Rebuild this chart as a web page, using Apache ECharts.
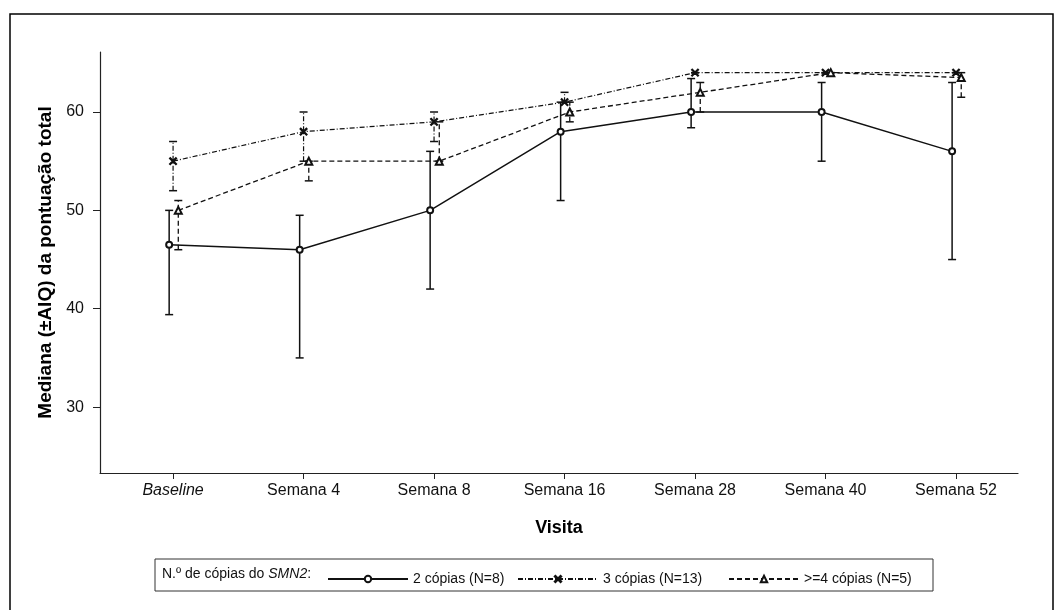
<!DOCTYPE html>
<html>
<head>
<meta charset="utf-8">
<script src="https://cdn.jsdelivr.net/npm/echarts@6/dist/echarts.min.js"></script>
<style>html,body{margin:0;padding:0;background:#fff}#c{width:1055px;height:610px}</style>
</head>
<body>
<div id="c"></div>
<script>
const categories = ['Baseline', 'Semana 4', 'Semana 8', 'Semana 16', 'Semana 28', 'Semana 40', 'Semana 52'];
const yTicks = [30, 40, 50, 60];
const seriesNames = ['2 cópias (N=8)', '3 cópias (N=13)', '>=4 cópias (N=5)'];
const two = [46.5, 46.0, 50.0, 58.0, 60.0, 60.0, 56.0];
const twoLow = [39.4, 35.0, 42.0, 51.0, 58.4, 55.0, 45.0];
const twoHigh = [50.0, 49.5, 56.0, 61.0, 63.4, 63.0, 63.0];
const three = [55, 58, 59, 61, 64, 64, 64];
const threeLow = [52, 55, 57, 61, 64, 64, 64];
const threeHigh = [57, 60, 60, 62, 64, 64, 64];
const four = [50, 55, 55, 60, 62, 64, 63.5];
const fourLow = [46, 53, 55, 59, 60, 64, 61.5];
const fourHigh = [51, 55, 59, 61, 63, 64, 64];

const offsets = [-0.03, 0, 0.04];
const ink = '#111';
const dashes = ['solid', [5, 2, 1, 2], [5, 3]];
const widths = [1.5, 1.2, 1.3];
const symbols = ['emptyCircle', 'path://M0,1L1,0L5,4L9,0L10,1L6,5L10,9L9,10L5,6L1,10L0,9L4,5Z', 'emptyTriangle'];
const symSizes = [6, 7, 7];
const meds = [two, three, four], lows = [twoLow, threeLow, fourLow], highs = [twoHigh, threeHigh, fourHigh];

const series = [];
for (let s = 0; s < 3; s++) {
  series.push({
    type: 'line', name: seriesNames[s],
    data: meds[s].map((v, i) => [i + offsets[s], v]),
    symbol: symbols[s], symbolSize: symSizes[s],
    lineStyle: { color: ink, width: widths[s], type: dashes[s] },
    itemStyle: { color: ink, borderColor: ink, borderWidth: 1.3 },
    z: 3
  });
  series.push({
    type: 'custom', name: seriesNames[s] + ' AIQ',
    data: meds[s].map((v, i) => [i + offsets[s], lows[s][i], highs[s][i]]),
    renderItem: function (params, api) {
      const x = api.value(0);
      const lo = api.coord([x, api.value(1)]);
      const hi = api.coord([x, api.value(2)]);
      const w = 4;
      const st = { stroke: ink, lineWidth: widths[s], lineDash: dashes[s] === 'solid' ? null : dashes[s] };
      const cap = { stroke: ink, lineWidth: 1.5 };
      return { type: 'group', children: [
        { type: 'line', shape: { x1: lo[0], y1: lo[1], x2: hi[0], y2: hi[1] }, style: st },
        { type: 'line', shape: { x1: lo[0] - w, y1: lo[1], x2: lo[0] + w, y2: lo[1] }, style: cap },
        { type: 'line', shape: { x1: hi[0] - w, y1: hi[1], x2: hi[0] + w, y2: hi[1] }, style: cap }
      ]};
    },
    z: 2
  });
}

const legendLefts = [322, 512, 723];
const legendWidths = [80, 80, 70];
const legends = seriesNames.map((n, k) => ({
  data: [n], left: legendLefts[k], top: 567,
  itemWidth: legendWidths[k], itemHeight: 8, itemGap: 0,
  textStyle: { fontSize: 14, color: '#111' }
}));

const chart = echarts.init(document.getElementById('c'), null, { renderer: 'canvas' });
chart.setOption({
  backgroundColor: '#fff',
  animation: false,
  textStyle: { fontFamily: 'Liberation Sans, Arial, sans-serif' },
  grid: { left: 100, right: 37, top: 52, bottom: 137 },
  xAxis: {
    type: 'value', min: -0.56, max: 6.475,
    name: 'Visita', nameLocation: 'middle', nameGap: 46,
    nameTextStyle: { fontWeight: 'bold', fontSize: 18, color: '#000' },
    axisLine: { onZero: false, lineStyle: { color: '#222', width: 1.2 } },
    axisTick: { show: true, customValues: categories.map((c, i) => i), length: 6, lineStyle: { color: '#222' } },
    axisLabel: {
      customValues: categories.map((c, i) => i), margin: 10, fontSize: 16, color: '#111',
      formatter: v => { const c = categories[Math.round(v)]; return c === 'Baseline' ? '{it|' + c + '}' : c; },
      rich: { it: { fontStyle: 'italic', fontSize: 16, color: '#111' } }
    },
    splitLine: { show: false }
  },
  yAxis: {
    type: 'value', min: 23.3, max: 66.1,
    name: 'Mediana (±AIQ) da pontuação total', nameLocation: 'middle', nameGap: 44,
    nameTextStyle: { fontWeight: 'bold', fontSize: 19, color: '#000' },
    axisLine: { show: true, onZero: false, lineStyle: { color: '#222', width: 1.2 } },
    axisTick: { show: true, customValues: yTicks, length: 7, lineStyle: { color: '#222' } },
    axisLabel: { customValues: yTicks, margin: 16, fontSize: 16, color: '#111' },
    splitLine: { show: false }
  },
  legend: legends,
  graphic: [
    { type: 'rect', shape: { x: 10, y: 14, width: 1043, height: 610 }, style: { fill: null, stroke: '#000', lineWidth: 1.5 }, silent: true },
    { type: 'rect', shape: { x: 155, y: 559, width: 778, height: 32 }, style: { fill: null, stroke: '#333', lineWidth: 1 }, silent: true },
    { type: 'text', left: 162, top: 567, style: { text: 'N.º de cópias do {it|SMN2}:', fontSize: 14, fill: '#111', fontFamily: 'Liberation Sans, Arial, sans-serif', rich: { it: { fontStyle: 'italic', fontSize: 14, fill: '#111' } } } }
  ],
  series: series
});
</script>
</body>
</html>
